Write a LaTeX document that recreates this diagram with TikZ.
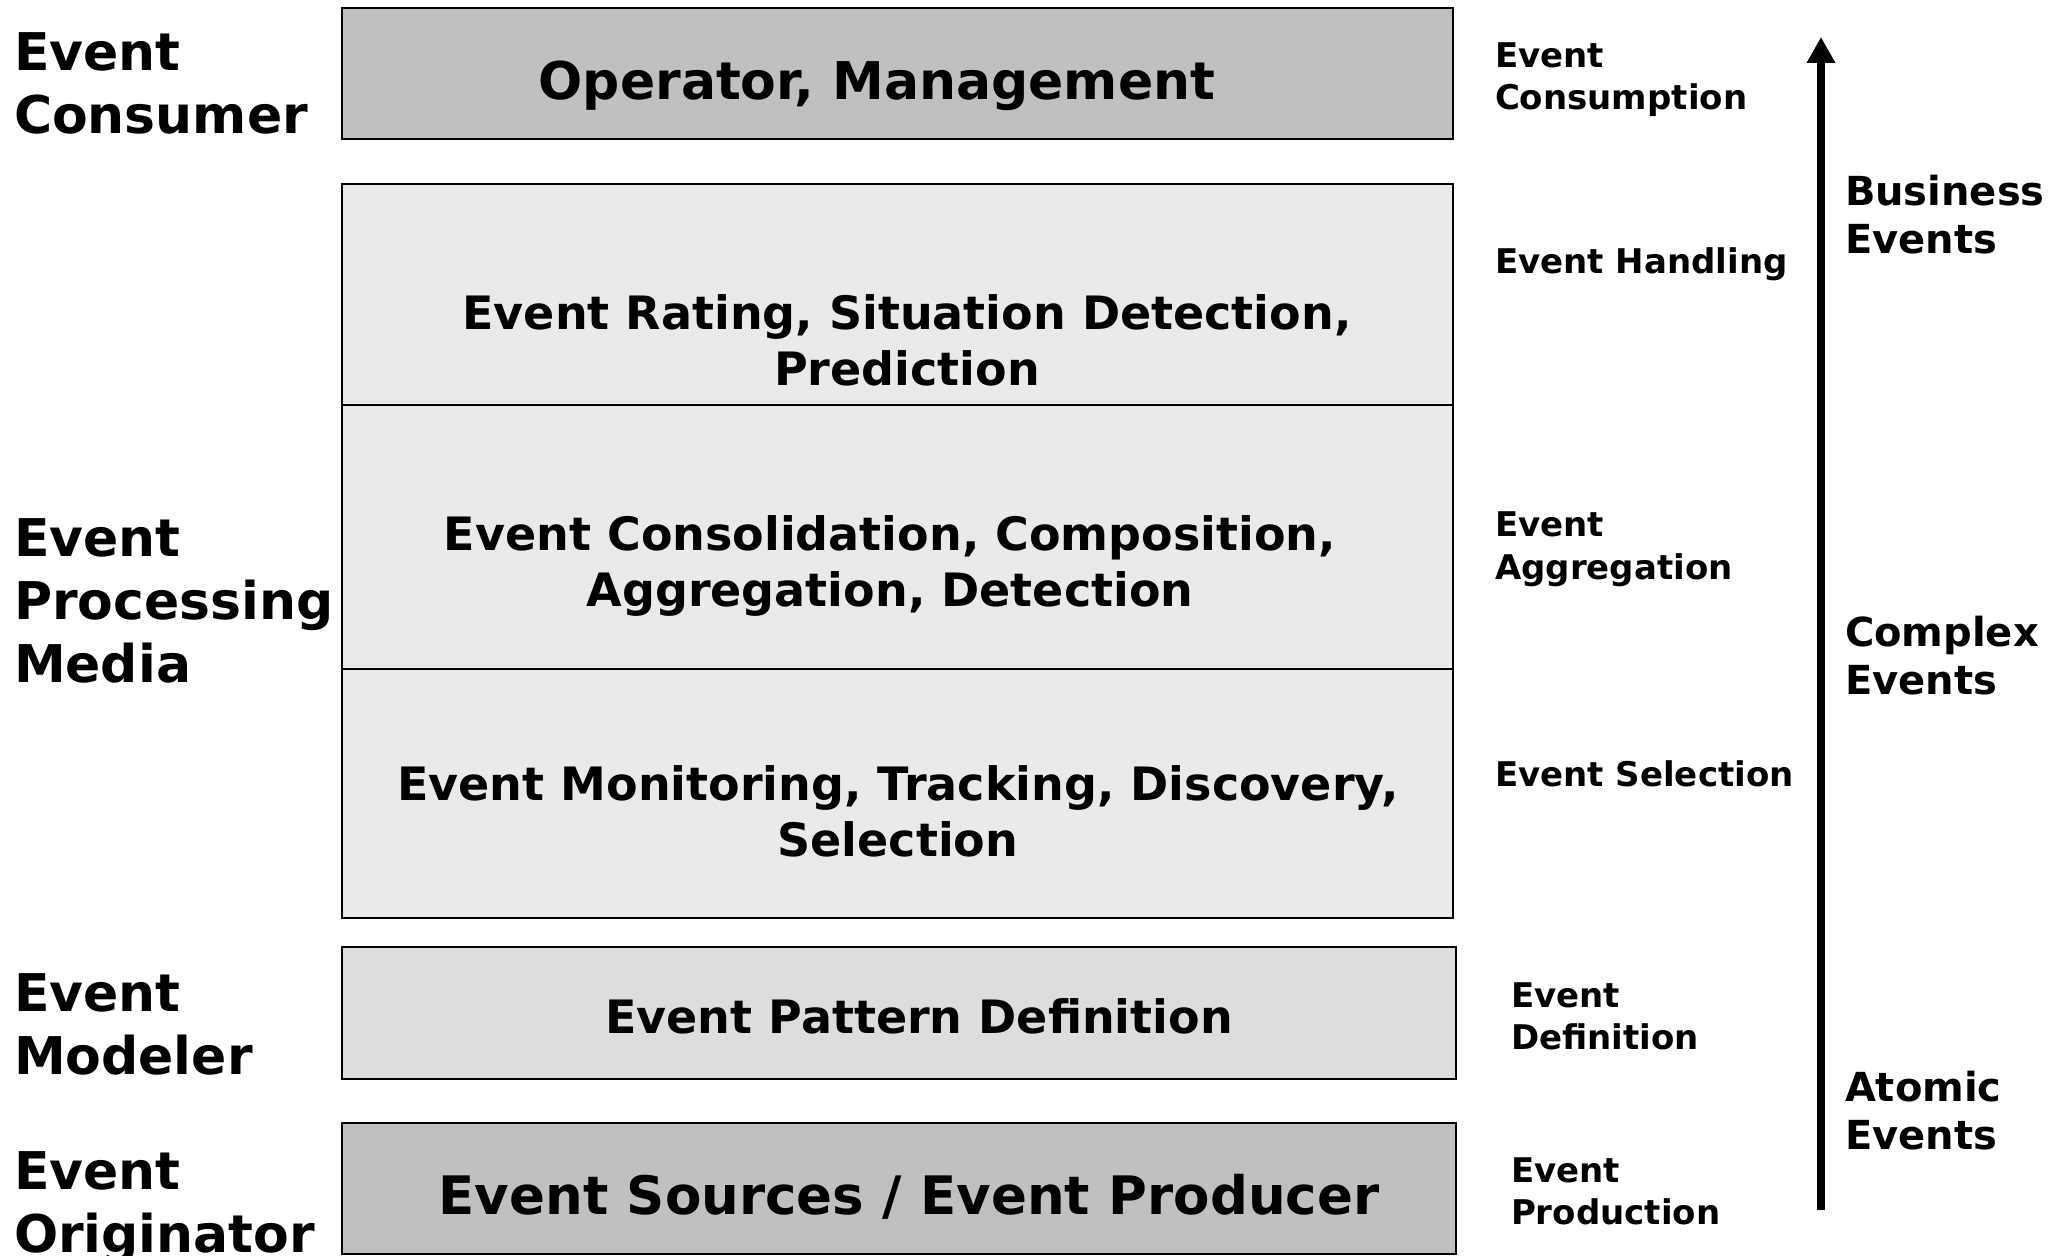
\documentclass[tikz,border=0pt]{standalone}
\usepackage{fontspec}
\setmainfont{DejaVu Sans}
\usetikzlibrary{arrows.meta}
\definecolor{layerdark}{HTML}{C0C0C0}
\definecolor{layerlight}{HTML}{EAEAEA}
\definecolor{layermid}{HTML}{DDDDDD}
% fixed first-line height, so a label's top sits exactly one em above its first baseline
\newcommand{\firstln}{\rule{0pt}{1em}}
\tikzset{
  layer/.style={draw=black, line width=1pt},
  txt/.style={inner sep=0pt, outer sep=0pt, font=\bfseries},
  rolelbl/.style={txt, anchor=north west, align=left, font=\fontsize{26pt}{31.5pt}\selectfont\bfseries},
  boxlbl/.style={txt, anchor=north, align=center, font=\fontsize{23pt}{28pt}\selectfont\bfseries},
  biglbl/.style={txt, anchor=north, align=center, font=\fontsize{26pt}{31pt}\selectfont\bfseries},
  steplbl/.style={txt, anchor=north west, align=left, font=\fontsize{17pt}{21pt}\selectfont\bfseries},
  kindlbl/.style={txt, anchor=north west, align=left, font=\fontsize{20pt}{24pt}\selectfont\bfseries},
}
\begin{document}
\begin{tikzpicture}[x=0.5pt, y=-0.5pt]
  \fill[white] (0,0) rectangle (2060,1256);
  \useasboundingbox (0,0) rectangle (2060,1256);

  % layer boxes
  \filldraw[layer, fill=layerdark]  (342,8)    rectangle (1453,139);
  \filldraw[layer, fill=layerlight] (342,184)  rectangle (1453,405);
  \filldraw[layer, fill=layerlight] (342,405)  rectangle (1453,669);
  \filldraw[layer, fill=layerlight] (342,669)  rectangle (1453,918);
  \filldraw[layer, fill=layermid]   (342,947)  rectangle (1456,1079);
  \filldraw[layer, fill=layerdark]  (342,1123) rectangle (1456,1254);

  % texts inside the layers
  \node[biglbl] (operator) at (877,48) {\firstln Operator, Management};
  \node[boxlbl] (rating) at (907,284) {\firstln Event Rating, Situation Detection,\\Prediction};
  \node[boxlbl] (consol) at (890,504) {\firstln Event Consolidation, Composition,\\Aggregation, Detection};
  \node[boxlbl] (monitor) at (898,754) {\firstln Event Monitoring, Tracking, Discovery,\\Selection};
  \node[boxlbl] (pattern) at (919,987) {\firstln Event Pattern Definition};
  \node[biglbl, font=\fontsize{26.5pt}{31pt}\selectfont\bfseries] (sources) at (909,1161) {\firstln Event Sources / Event Producer};

  % roles on the left
  \node[rolelbl] (consumer) at (14,19) {\firstln Event\\Consumer};
  \node[rolelbl] (media) at (14,504) {\firstln Event\\Processing\\Media};
  \node[rolelbl] (modeler) at (14,959) {\firstln Event\\Modeler};
  \node[rolelbl] (originator) at (14,1137) {\firstln Event\\Originator};

  % processing steps on the right
  \node[steplbl] (consumption) at (1495,34) {\firstln Event\\Consumption};
  \node[steplbl] (handling) at (1495,240) {\firstln Event Handling};
  \node[steplbl] (aggregation) at (1495,503) {\firstln Event\\Aggregation};
  \node[steplbl] (selection) at (1495,752) {\firstln Event Selection};
  \node[steplbl] (definition) at (1511,973) {\firstln Event\\Definition};
  \node[steplbl] (production) at (1511,1148) {\firstln Event\\Production};

  % abstraction axis
  \coordinate (axisbot) at (1821,1210);
  \coordinate (axistop) at (1821,37);
  \draw[line width=4pt, -{Triangle[length=13pt, width=13.5pt]}] (axisbot) -- (axistop);

  \node[kindlbl] (business) at (1845,166) {\firstln Business\\Events};
  \node[kindlbl] (complex) at (1845,606) {\firstln Complex\\Events};
  \node[kindlbl] (atomic) at (1845,1061) {\firstln Atomic\\Events};
\end{tikzpicture}
\end{document}
